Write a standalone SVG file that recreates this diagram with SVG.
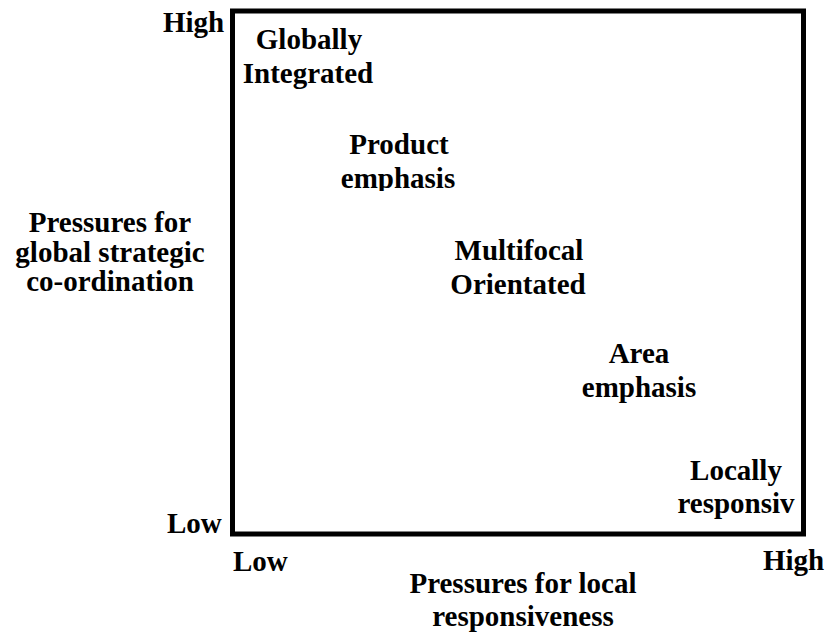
<svg xmlns="http://www.w3.org/2000/svg" width="827" height="633" viewBox="0 0 827 633">
<style>
text{font-family:"Liberation Serif","Times New Roman",serif;font-weight:bold;font-size:29px;fill:#000}
.c{text-anchor:middle}
</style>
<defs>
<clipPath id="clipProd"><rect x="0" y="0" width="827" height="191"/></clipPath>
</defs>
<rect width="827" height="633" fill="#fff"/>
<g id="frame"><rect x="232.5" y="11" width="571" height="523" fill="none" stroke="#000" stroke-width="5"/></g>
<g id="axis-labels">
<text x="163" y="32">High</text>
<text x="167" y="533">Low</text>
<text x="233" y="571">Low</text>
<text x="763" y="570">High</text>
</g>
<g id="y-title"><text class="c" x="110" y="232">Pressures for</text><text class="c" x="110" y="262">global strategic</text><text class="c" x="110" y="291">co-ordination</text></g>
<g id="x-title"><text class="c" x="523" y="593">Pressures for local</text><text class="c" x="523" y="626">responsiveness</text></g>
<g id="globally"><text class="c" x="309" y="49">Globally</text><text class="c" x="308" y="83">Integrated</text></g>
<g id="product" clip-path="url(#clipProd)"><text class="c" x="399" y="154">Product</text><text class="c" x="398" y="188">emphasis</text></g>
<g id="multifocal"><text class="c" x="519" y="260">Multifocal</text><text class="c" x="518" y="294">Orientated</text></g>
<g id="area"><text class="c" x="639" y="363">Area</text><text class="c" x="639" y="397">emphasis</text></g>
<g id="locally"><text class="c" x="736" y="480">Locally</text><text class="c" x="736" y="513">responsiv</text></g>
</svg>
